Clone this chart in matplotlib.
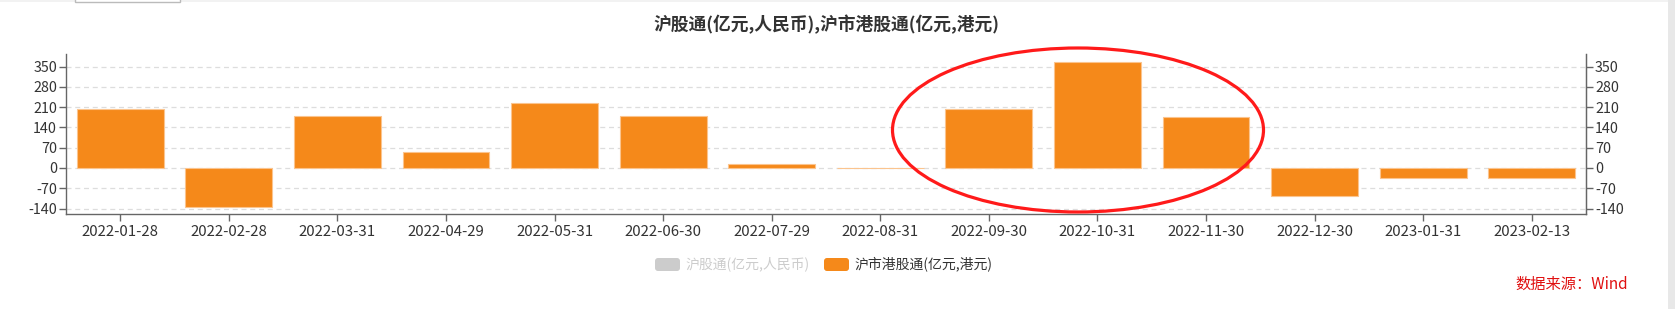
import matplotlib
matplotlib.use("Agg")
import matplotlib.pyplot as plt
from matplotlib.patches import Ellipse, FancyBboxPatch, Rectangle

plt.rcParams['font.family'] = ['Noto Sans CJK SC', 'DejaVu Sans']

# data
dates = ['2022-01-28', '2022-02-28', '2022-03-31', '2022-04-29', '2022-05-31',
         '2022-06-30', '2022-07-29', '2022-08-31', '2022-09-30', '2022-10-31',
         '2022-11-30', '2022-12-30', '2023-01-31', '2023-02-13']
hk_connect = [204, -135, 180, 54, 224, 179, 13, 1, 204, 366, 175, -96, -34, -35]
yticks = [-140, -70, 0, 70, 140, 210, 280, 350]

title = '沪股通(亿元,人民币),沪市港股通(亿元,港元)'
legend_names = ['沪股通(亿元,人民币)', '沪市港股通(亿元,港元)']
source = '数据来源：Wind'

W, H = 1675, 309
orange = '#f5891a'
fig = plt.figure(figsize=(W / 100, H / 100), dpi=100)

ax = fig.add_axes([66 / W, 1 - 214 / H, (1586 - 66) / W, (214 - 54) / H])
x = list(range(len(dates)))
ax.bar(x, hk_connect, width=0.8, color=orange, edgecolor='#fbc48e', linewidth=0.8, zorder=3)
ax.set_xlim(-0.5, len(dates) - 0.5)
ax.set_ylim(-159, 394)
ax.set_xticks(x)
ax.set_xticklabels(dates, fontsize=10.8, color='#333333')
ax.set_yticks(yticks)
ax.set_yticklabels([str(v) for v in yticks], fontsize=10.3, color='#333333')
ax.tick_params(axis='both', length=5, width=1, color='#666666', pad=1.5)
ax.tick_params(axis='x', pad=3)
ax.grid(axis='y', color='#dddddd', linestyle=(0, (4, 3)), linewidth=0.9, zorder=0)
ax.spines['top'].set_visible(False)
for s in ['left', 'right', 'bottom']:
    ax.spines[s].set_color('#666666')
    ax.spines[s].set_linewidth(1)

ax2 = ax.twinx()
ax2.set_ylim(ax.get_ylim())
ax2.set_yticks(yticks)
ax2.set_yticklabels([str(v) for v in yticks], fontsize=10.3, color='#333333')
ax2.tick_params(axis='y', length=5, width=1, color='#666666', pad=1.5)
for s in ['top', 'left', 'bottom']:
    ax2.spines[s].set_visible(False)
ax2.spines['right'].set_color('#666666')

# overlay in pixel coordinates for title, legend, source, annotation
ov = fig.add_axes([0, 0, 1, 1], zorder=5)
ov.set_xlim(0, W)
ov.set_ylim(H, 0)
ov.axis('off')
ov.patch.set_alpha(0)

ov.add_patch(Rectangle((0, 0), W, 2, color='#f2f2f2', lw=0))
ov.add_patch(Rectangle((1668, 0), 7, H, color='#e8e8e8', lw=0))
ov.add_patch(Rectangle((75, -4), 105, 5.5, facecolor='white', edgecolor='#bbbbbb', lw=1))

ov.text(826, 25, title, ha='center', va='center', fontsize=12.8,
        fontweight='bold', color='#333333')

ov.add_patch(FancyBboxPatch((655, 258), 25, 13, boxstyle='round,pad=0,rounding_size=3',
                            color='#cccccc', lw=0))
ov.text(685, 264, legend_names[0], ha='left', va='center', fontsize=10, color='#cccccc')
ov.add_patch(FancyBboxPatch((824, 258), 25, 13, boxstyle='round,pad=0,rounding_size=3',
                            color=orange, lw=0))
ov.text(854, 264, legend_names[1], ha='left', va='center', fontsize=10, color='#333333')

ov.text(1628, 284, source, ha='right', va='center', fontsize=11, color='#e01010')

ov.add_patch(Ellipse((1078, 130), 371, 164, fill=False, edgecolor='#ff1a1a', lw=2.3))

fig.savefig('out.png', dpi=100)
